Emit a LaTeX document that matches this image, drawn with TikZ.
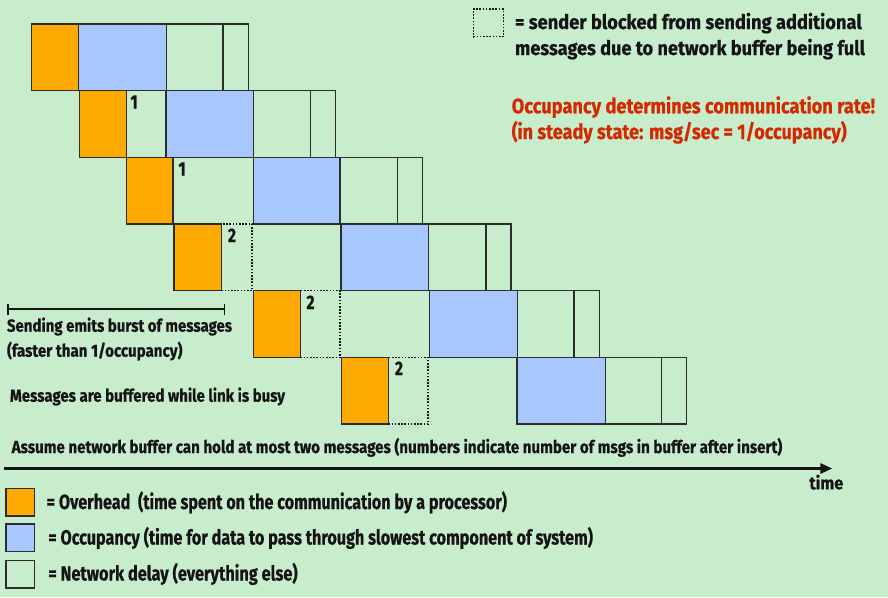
\documentclass[tikz,border=0pt]{standalone}
\usepackage{fontspec}
\setmainfont{Fira Sans}[UprightFont={* Bold}, BoldFont={* Bold}, FakeBold=0.6]
\usetikzlibrary{arrows.meta}
\definecolor{bg}{RGB}{200,237,205}
\definecolor{ovh}{RGB}{255,170,0}
\definecolor{occ}{RGB}{168,199,255}
\definecolor{redt}{RGB}{212,40,0}
\definecolor{ink}{RGB}{20,20,20}
\newcommand\fitt[3]{\fontsize{#1}{#1}\selectfont\bfseries\resizebox{#2pt}{\height}{#3}}
\tikzset{
  box/.style={draw=ink!90, line width=1.4pt, inner sep=0pt, outer sep=0pt,
              minimum height=66.7pt, anchor=north west},
  ovhbox/.style={box, fill=ovh},
  occbox/.style={box, fill=occ},
  delbox/.style={box, fill=bg},
  dashbox/.style={box, draw=ink, line width=1.1pt, dash pattern=on 1.6pt off 1.6pt},
  legbox/.style={draw=ink!90, line width=1.4pt, inner sep=0pt, outer sep=0pt,
              minimum width=28.3pt, minimum height=27.7pt, anchor=north west},
  txt/.style={inner sep=0pt, outer sep=0pt, anchor=base west, text=ink},
  num/.style={txt},
}
\begin{document}
\begin{tikzpicture}[x=1pt, y=-1pt]
\useasboundingbox (0,0) rectangle (888,597);
\fill[bg] (0,0) rectangle (888,597);

% dashed (blocked) boxes first
\node[dashbox, minimum width=30.7pt] (d4) at (221.3,224) {};
\node[dashbox, minimum width=39.7pt] (d5) at (300.3,290.7) {};
\node[dashbox, minimum width=39.7pt] (d6) at (388.3,357.3) {};

% row 1
\node[ovhbox, minimum width=46.6pt] (o1) at (31.7,24) {};
\node[occbox, minimum width=88pt]   (b1) at (78.3,24) {};
\node[delbox, minimum width=56.7pt] (g1) at (166.3,24) {};
\node[delbox, minimum width=25.3pt] (s1) at (223,24) {};
% row 2
\node[ovhbox, minimum width=46.6pt] (o2) at (79.7,90.7) {};
\node[occbox, minimum width=87.7pt] (b2) at (166,90.7) {};
\node[delbox, minimum width=57pt]   (g2) at (253.7,90.7) {};
\node[delbox, minimum width=25pt]   (s2) at (310.7,90.7) {};
% row 3
\node[ovhbox, minimum width=46.7pt] (o3) at (126.3,157.3) {};
\node[occbox, minimum width=86.7pt] (b3) at (253.3,157.3) {};
\node[delbox, minimum width=57.3pt] (g3) at (340,157.3) {};
\node[delbox, minimum width=25pt]   (s3) at (397.3,157.3) {};
% row 4
\node[ovhbox, minimum width=47.3pt] (o4) at (174,224) {};
\node[occbox, minimum width=87.3pt] (b4) at (341,224) {};
\node[delbox, minimum width=57.7pt] (g4) at (428.3,224) {};
\node[delbox, minimum width=25pt]   (s4) at (486,224) {};
% row 5
\node[ovhbox, minimum width=47pt]   (o5) at (253.3,290.7) {};
\node[occbox, minimum width=88.2pt] (b5) at (429.3,290.7) {};
\node[delbox, minimum width=56.5pt] (g5) at (517.5,290.7) {};
\node[delbox, minimum width=25.3pt] (s5) at (574,290.7) {};
% row 6
\node[ovhbox, minimum width=46.6pt] (o6) at (341.7,357.3) {};
\node[occbox, minimum width=88.7pt] (b6) at (517,357.3) {};
\node[delbox, minimum width=56pt]   (g6) at (605.7,357.3) {};
\node[delbox, minimum width=25pt]   (s6) at (661.7,357.3) {};

% buffer counts
\node[num] (n2) at (130.5,108.5) {\fitt{19.5}{7}{1}};
\node[num] (n3) at (178.5,175.5) {\fitt{19.5}{7}{1}};
\node[num] (n4) at (228,242) {\fitt{19.5}{8}{2}};
\node[num] (n5) at (306.5,309) {\fitt{19.5}{8}{2}};
\node[num] (n6) at (395,375) {\fitt{19.5}{8}{2}};

% burst bracket
\coordinate (bl) at (7.3,309);
\coordinate (br) at (225.3,309);
\draw[ink, line width=1.8pt, {Bar[width=11pt]}-{Bar[width=11pt]}] (bl) -- (br);

% texts left
\node[txt] (tsend) at (7,331.7) {\fitt{17.5}{225}{Sending emits burst of messages}};
\node[txt] (tfast) at (7,356.7) {\fitt{17.5}{175.5}{(faster than 1/occupancy)}};
\node[txt] (tbuf) at (10,401.7) {\fitt{17.5}{275}{Messages are buffered while link is busy}};
\node[txt] (tass) at (11.7,453) {\fitt{17.5}{770.6}{Assume network buffer can hold at most two messages (numbers indicate number of msgs in buffer after insert)}};

% top right legend
\node[dashbox, minimum width=30pt, minimum height=27.7pt] (dleg) at (473.3,9) {};
\node[txt] (tblk1) at (515,29) {\fitt{20}{346.7}{= sender blocked from sending additional}};
\node[txt] (tblk2) at (515,55) {\fitt{20}{350}{messages due to network buffer being full}};
\node[txt, text=redt] (tocc1) at (511.7,113.3) {\fitt{21}{363.3}{Occupancy determines communication rate!}};
\node[txt, text=redt] (tocc2) at (511.7,139) {\fitt{21}{335}{(in steady state: msg/sec = 1/occupancy)}};

% time axis
\coordinate (ta) at (4,468.5);
\coordinate (tb) at (832.3,468.5);
\draw[ink, line width=3pt, -{Triangle[length=12pt,width=10pt]}] (ta) -- (tb);
\node[txt] (ttime) at (809.3,489.3) {\fitt{18}{34}{time}};

% bottom legend
\node[legbox, fill=ovh] (lo) at (6,488.3) {};
\node[legbox, fill=occ] (lb) at (6,524) {};
\node[legbox, fill=bg]  (lg) at (6,560.3) {};
\node[txt] (tlo) at (46.7,509) {\fitt{20.5}{460.3}{= Overhead\ \ (time spent on the communication by a processor)}};
\node[txt] (tlb) at (48.3,544.5) {\fitt{20.5}{544.7}{= Occupancy (time for data to pass through slowest component of system)}};
\node[txt] (tlg) at (48.3,580.5) {\fitt{20.5}{249.4}{= Network delay (everything else)}};
\end{tikzpicture}
\end{document}
